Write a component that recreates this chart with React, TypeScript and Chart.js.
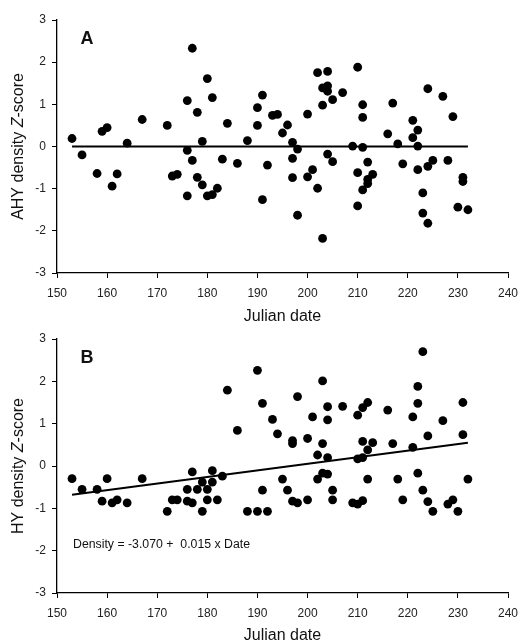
import React, { useEffect, useRef } from "react";
import { Chart, registerables } from "chart.js";

Chart.register(...registerables);

// Panel A: AHY density Z-score vs Julian date
const aDates = [153, 155, 158, 159, 160, 161, 162, 164, 167, 172, 173, 174, 176, 176, 176, 177, 177, 178, 178, 179, 179, 180, 180, 181, 181, 182, 183, 184, 186, 188, 190, 190, 191, 191, 192, 193, 194, 195, 196, 197, 197, 197, 198, 198, 200, 200, 201, 202, 202, 203, 203, 203, 204, 204, 204, 204, 205, 205, 207, 209, 210, 210, 210, 211, 211, 211, 211, 212, 212, 212, 213, 216, 217, 218, 219, 221, 221, 222, 222, 222, 223, 223, 224, 224, 224, 225, 227, 228, 229, 230, 231, 231, 232];
const aZ = [0.19, -0.2, -0.64, 0.36, 0.45, -0.94, -0.65, 0.08, 0.64, 0.5, -0.7, -0.66, -1.17, -0.09, 1.09, 2.33, -0.33, 0.81, -0.73, 0.12, -0.91, 1.61, -1.17, 1.16, -1.14, -0.99, -0.3, 0.55, -0.4, 0.14, 0.5, 0.92, 1.22, -1.26, -0.44, 0.74, 0.76, 0.32, 0.51, 0.1, -0.28, -0.74, -0.06, -1.63, 0.77, -0.72, -0.55, 1.75, -0.99, 1.39, 0.98, -2.18, 1.78, 1.44, 1.31, -0.18, 1.11, -0.36, 1.28, 0.01, 1.88, -0.62, -1.41, 0.99, 0.69, -0.02, -1.03, -0.37, -0.78, -0.88, -0.66, 0.3, 1.03, 0.06, -0.41, 0.62, 0.21, 0.39, 0.01, -0.55, -1.1, -1.58, 1.37, -0.47, -1.82, -0.33, 1.19, -0.33, 0.71, -1.44, -0.73, -0.83, -1.5];
const aLineDates = [153, 232];
const aLineZ = [0, 0];

// Panel B: HY density Z-score vs Julian date
const bDates = [153, 155, 158, 159, 160, 161, 162, 164, 167, 172, 173, 174, 176, 176, 177, 177, 178, 179, 179, 180, 180, 181, 181, 182, 183, 184, 186, 188, 190, 190, 191, 191, 192, 193, 194, 195, 196, 197, 197, 197, 198, 198, 200, 200, 201, 202, 202, 203, 203, 203, 204, 204, 204, 204, 205, 205, 207, 209, 210, 210, 210, 211, 211, 211, 211, 212, 212, 212, 213, 216, 217, 218, 219, 221, 221, 222, 222, 222, 223, 223, 224, 224, 225, 227, 228, 229, 230, 231, 231, 232];
const bZ = [-0.3, -0.55, -0.55, -0.83, -0.3, -0.87, -0.8, -0.87, -0.3, -1.07, -0.8, -0.8, -0.55, -0.83, -0.14, -0.87, -0.55, -0.38, -1.07, -0.55, -0.8, -0.11, -0.38, -0.8, -0.24, 1.79, 0.84, -1.07, 2.26, -1.07, 1.48, -0.57, -1.07, 1.1, 0.76, -0.31, -0.57, 0.6, 0.53, -0.83, 1.64, -0.87, 0.65, -0.8, 1.16, 0.26, -0.31, 2.01, 0.53, -0.17, 1.4, 1.09, 0.2, -0.19, -0.57, -0.8, 1.41, -0.87, 1.2, 0.17, -0.9, 1.38, 0.58, 0.2, -0.82, 1.5, 0.38, -0.31, 0.55, 1.32, 0.53, -0.31, -0.8, 1.16, 0.44, 1.88, 1.48, -0.17, 2.7, -0.57, 0.71, -0.84, -1.07, 1.07, -0.9, -0.8, -1.07, 1.5, 0.74, -0.31];
const bLineDates = [153, 232];
const bLineZ = [-0.68, 0.55];

const xTicks = [150, 160, 170, 180, 190, 200, 210, 220, 230, 240];
const yTicks = [-3, -2, -1, 0, 1, 2, 3];

const FONT = "'Liberation Sans', Arial, Helvetica, sans-serif";

type PanelProps = {
  dates: number[];
  z: number[];
  lineDates: number[];
  lineZ: number[];
  letter: string;
  yPrefix: string;
  equation?: string;
  top: number;
  canvasH: number;
  topPad: number;
  plotBottom: number;
  titleY: number;
};

function makeTextPlugin(p: PanelProps) {
  return {
    id: "panelText",
    afterDraw(chart: any) {
      const ctx = chart.ctx;
      const area = chart.chartArea;
      ctx.save();
      ctx.fillStyle = "#111";
      // Panel letter
      ctx.font = `bold 18px ${FONT}`;
      ctx.textAlign = "center";
      ctx.textBaseline = "middle";
      ctx.fillText(p.letter, 87, area.top + 19);
      // X title
      ctx.font = `16px ${FONT}`;
      ctx.fillText("Julian date", (area.left + area.right) / 2, p.titleY);
      // Y title with italic Z
      const parts = [
        { t: p.yPrefix + " density ", f: `16px ${FONT}` },
        { t: "Z", f: `italic 16px ${FONT}` },
        { t: "-score", f: `16px ${FONT}` },
      ];
      let total = 0;
      for (const s of parts) {
        ctx.font = s.f;
        total += ctx.measureText(s.t).width;
      }
      ctx.translate(19, (area.top + area.bottom) / 2);
      ctx.rotate(-Math.PI / 2);
      ctx.textAlign = "left";
      let x = -total / 2;
      for (const s of parts) {
        ctx.font = s.f;
        ctx.fillText(s.t, x, 0);
        x += ctx.measureText(s.t).width;
      }
      ctx.restore();
      if (p.equation) {
        ctx.save();
        ctx.fillStyle = "#111";
        ctx.font = `12.3px ${FONT}`;
        ctx.textAlign = "left";
        ctx.textBaseline = "middle";
        ctx.fillText(p.equation, area.left + 16, area.top + 206);
        ctx.restore();
      }
    },
  };
}

function Panel(p: PanelProps) {
  const ref = useRef<HTMLCanvasElement>(null);
  useEffect(() => {
    if (!ref.current) return;
    const pts = p.dates.map((d, i) => ({ x: d, y: p.z[i] }));
    const line = p.lineDates.map((d, i) => ({ x: d, y: p.lineZ[i] }));
    const tickFont = { family: FONT, size: 12 };
    const chart = new Chart(ref.current, {
      type: "scatter",
      data: {
        datasets: [
          {
            type: "line",
            data: line,
            borderColor: "#000",
            borderWidth: 2,
            pointRadius: 0,
            fill: false,
            order: 2,
          } as any,
          {
            data: pts,
            backgroundColor: "#000",
            borderColor: "#000",
            borderWidth: 0,
            pointRadius: 4.4,
            order: 1,
          },
        ],
      },
      options: {
        animation: false,
        responsive: false,
        maintainAspectRatio: false,
        layout: { padding: { top: p.topPad, right: 13, left: 0, bottom: 0 } },
        plugins: { legend: { display: false }, tooltip: { enabled: false } },
        scales: {
          x: {
            type: "linear",
            min: 150,
            max: 240,
            afterBuildTicks: (s: any) => {
              s.ticks = xTicks.map((v) => ({ value: v }));
            },
            ticks: { font: tickFont, color: "#222", padding: 8, maxRotation: 0 },
            grid: { drawOnChartArea: false, drawTicks: true, tickLength: 5, color: "#000" },
            border: { display: true, color: "#000", width: 1.3 },
            afterFit: (s: any) => {
              s.height = p.canvasH - p.plotBottom;
              s.paddingLeft = 0;
              s.paddingRight = 0;
            },
          },
          y: {
            type: "linear",
            min: -3,
            max: 3,
            afterBuildTicks: (s: any) => {
              s.ticks = yTicks.map((v) => ({ value: v }));
            },
            ticks: { font: tickFont, color: "#222", padding: 6 },
            grid: { drawOnChartArea: false, drawTicks: true, tickLength: 5, color: "#000" },
            border: { display: true, color: "#000", width: 1.3 },
            afterFit: (s: any) => {
              s.width = 57;
              s.paddingTop = 0;
              s.paddingBottom = 0;
            },
          },
        },
      },
      plugins: [makeTextPlugin(p)],
    });
    return () => chart.destroy();
  }, []);
  return (
    <canvas
      ref={ref}
      width={521}
      height={p.canvasH}
      style={{ display: "block", position: "absolute", left: 0, top: p.top, width: 521, height: p.canvasH }}
    />
  );
}

export default function App() {
  return (
    <div style={{ position: "absolute", left: 0, top: 0, width: 521, height: 641, background: "#fff", overflow: "hidden" }}>
      <Panel
        dates={aDates}
        z={aZ}
        lineDates={aLineDates}
        lineZ={aLineZ}
        letter="A"
        yPrefix="AHY"
        top={0}
        canvasH={330}
        topPad={20}
        plotBottom={273}
        titleY={317}
      />
      <Panel
        dates={bDates}
        z={bZ}
        lineDates={bLineDates}
        lineZ={bLineZ}
        letter="B"
        yPrefix="HY"
        equation="Density = -3.070 +  0.015 x Date"
        top={320}
        canvasH={321}
        topPad={19}
        plotBottom={273}
        titleY={316}
      />
    </div>
  );
}
